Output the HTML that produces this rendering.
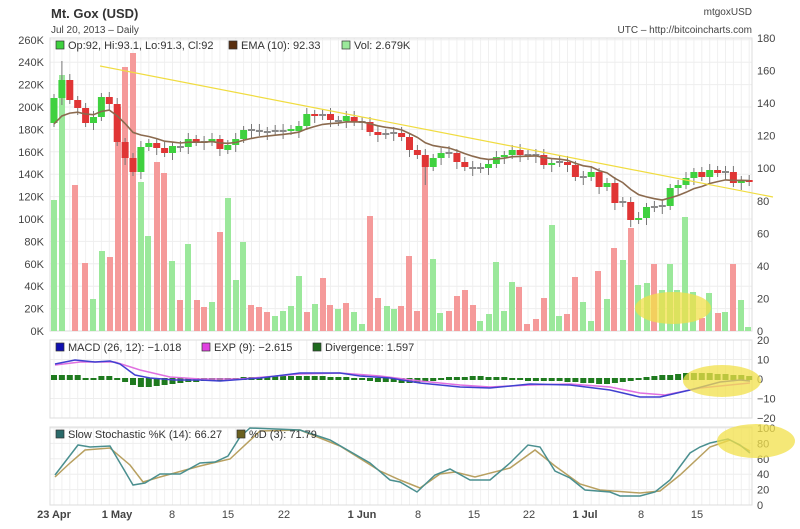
<!DOCTYPE html>
<html><head><meta charset="utf-8">
<style>
body{margin:0;background:#fff;}
svg{display:block;font-family:"Liberation Sans",sans-serif;}
</style></head>
<body>
<svg id="s" width="800" height="529" viewBox="0 0 800 529" xmlns="http://www.w3.org/2000/svg">
<rect width="800" height="529" fill="#fff"/>
<text x="51" y="18" font-size="13" font-weight="bold" fill="#333">Mt. Gox (USD)</text>
<text x="51" y="33" font-size="10" fill="#444">Jul 20, 2013 – Daily</text>
<text x="752" y="15" font-size="10" fill="#444" text-anchor="end">mtgoxUSD</text>
<text x="752" y="33" font-size="10" fill="#444" text-anchor="end">UTC – http://bitcoincharts.com</text>
<g id="g"></g>
</svg>
<script>
(function(){
var g=document.getElementById('g'),h='';
function X(i){return 54+7.9*i;}
var P=[[38,331],[340,418],[427,505]];
P.forEach(function(p){
 for(var i=0;i<89;i++){h+='<line x1="'+X(i)+'" y1="'+p[0]+'" x2="'+X(i)+'" y2="'+p[1]+'" stroke="#f0f0f0" stroke-width="1"/>';}
});
for(var k=0;k<=13;k++){var y=331-k*22.4;h+='<line x1="50" y1="'+y+'" x2="752" y2="'+y+'" stroke="#eee"/>';
 h+='<text x="44" y="'+(y+4)+'" font-size="11" fill="#444" text-anchor="end">'+(k*20)+'K</text>';}
for(var k=0;k<=9;k++){var y=331-k*32.56;h+='<text x="757" y="'+(y+4)+'" font-size="11" fill="#444">'+(k*20)+'</text>';}
for(var k=-2;k<=2;k++){var y=379-k*19.5;h+='<line x1="50" y1="'+y+'" x2="752" y2="'+y+'" stroke="#eee"/>';
 h+='<text x="757" y="'+(y+4)+'" font-size="11" fill="#444">'+(k<0?'−':'')+Math.abs(k*10)+'</text>';}
for(var k=0;k<=5;k++){var y=505-k*15.4;h+='<line x1="50" y1="'+y+'" x2="752" y2="'+y+'" stroke="#eee"/>';
 h+='<text x="757" y="'+(y+4)+'" font-size="11" fill="#444">'+(k*20)+'</text>';}
P.forEach(function(p){h+='<rect x="50" y="'+p[0]+'" width="702" height="'+(p[1]-p[0])+'" fill="none" stroke="#ddd"/>';});
var V=[[54,200,'g'],[62,75,'g'],[75,185,'r'],[85,263,'r'],[93,299,'g'],[102,251,'g'],[110,257,'r'],[118,107,'r'],[125,67,'r'],[133,53,'r'],[141,182,'g'],[148,236,'g'],[157,162,'r'],[164,173,'r'],[172,261,'g'],[180,300,'r'],[188,244,'g'],[197,300,'r'],[204,307,'r'],[212,302,'g'],[220,232,'r'],[228,198,'g'],[236,280,'g'],[243,242,'g'],[251,305,'r'],[259,307,'r'],[267,312,'r'],[275,316,'g'],[283,311,'g'],[291,306,'g'],[299,276,'g'],[307,312,'r'],[315,304,'g'],[323,278,'r'],[330,305,'r'],[338,309,'g'],[346,303,'r'],[354,312,'g'],[362,324,'g'],[370,216,'r'],[378,298,'r'],[387,306,'g'],[394,309,'g'],
[401,306,'r'],[409,256,'r'],[417,311,'r'],[425,165,'r'],[433,259,'g'],[440,313,'g'],[449,311,'r'],[457,296,'r'],[465,290,'r'],[473,305,'r'],[480,321,'g'],[489,314,'g'],[496,262,'g'],[504,311,'g'],[512,282,'g'],[519,287,'r'],[527,324,'r'],[536,319,'r'],[544,298,'r'],[552,225,'g'],[559,316,'g'],[567,314,'r'],[575,277,'r'],[583,302,'g'],[591,321,'g'],[598,271,'r'],[607,299,'g'],[614,248,'r'],[623,260,'g'],[631,228,'r'],[638,285,'g'],[647,283,'g'],[654,264,'r'],[662,290,'g'],[670,264,'g'],[677,290,'g'],[685,217,'g'],[693,292,'g'],[702,318,'r'],[709,293,'g'],[718,313,'r'],[725,312,'g'],[733,264,'r'],[741,300,'g'],[748,327,'g']];
V.forEach(function(v){h+='<rect x="'+(v[0]-3)+'" y="'+v[1]+'" width="6" height="'+(331-v[1])+'" fill="'+(v[2]=='g'?'#9be89b':'#f59a9a')+'"/>';});
var C=[98,80,100,108,123,117,97,104,142,158,172,147,143,148,153,146,147,139,142,142,139,149,145,139,130,130,131,132,131,131,129,126,114,116,115,120,121,116,122,122,132,135,134,133,137,150,155,167,158,153,153,162,167,168,168,164,157,155,150,155,155,155,165,163,162,165,177,177,172,187,183,203,202,220,218,207,207,206,188,185,178,172,177,170,173,172,183,180,182];
var O={0:123,22:150,31:131,35:114,38:117};
var ema=[],e=124;
for(var i=0;i<89;i++){
 var c0=C[i],o0=(O[i]!==undefined)?O[i]:(i?C[i-1]:123);
 var cc=c0,oo=o0;
 var col=(c0<o0)?'#3fd13f':'#e03535';
 if(Math.abs(oo-cc)<2){col='#8a8a8a';oo=cc+1;cc=cc-1;}
 var bt=Math.min(oo,cc),bb=Math.max(oo,cc),xx=X(i);
 var hi=bt-4-(i%3),lo=bb+4+(i%2)*3; if(i==47)lo=185; if(i==1)hi=61;
 h+='<line x1="'+xx+'" y1="'+hi+'" x2="'+xx+'" y2="'+lo+'" stroke="#777" stroke-width="1"/>';
 h+='<rect x="'+(xx-3.5)+'" y="'+bt+'" width="7" height="'+Math.max(1,bb-bt)+'" fill="'+col+'"/>';
 e=(i==0)?124:e+(C[i]-e)*2/11; ema.push(xx.toFixed(1)+','+e.toFixed(1));}
h+='<polyline points="'+ema.join(' ')+'" fill="none" stroke="#8b6a4e" stroke-width="1.6"/>';
h+='<line x1="100" y1="66" x2="773" y2="197" stroke="#f0dc40" stroke-width="1.2"/>';
var D=[3,3,3,3,0,0,2,2,0,-2,-5,-7,-7,-6,-5,-4,-3,-2,-2,-1,-1,-1,0,0,1,1,1,1,2,2,2,2,2,2,2,1,1,1,0,0,-1,-2,-2,-2,-3,-3,-3,-2,-1,0,1,1,1,2,2,1,1,1,0,0,-1,-1,-1,-1,-1,-2,-2,-3,-3,-4,-4,-3,-2,-1,0,1,2,3,3,4,5,5,5,5,4,4,3,3,2];
for(var i=0;i<89;i++){var d=D[i];h+='<rect x="'+(X(i)-3)+'" y="'+(d>0?379-d-1:378)+'" width="6" height="'+(Math.abs(d)+2)+'" fill="#1e7a1e"/>';}
h+='<polyline points="55,365 80,362 115,362 140,370 170,377 200,379 240,379 300,374 340,373 380,376 420,381 460,385 490,387 530,385 570,384 610,387 640,393 665,395 700,388 740,384 750,383" fill="none" stroke="#e070e0" stroke-width="1.5"/>';
h+='<polyline points="55,364 75,360 95,362 110,361 120,364 135,375 150,378 175,380 200,380 220,381 260,378 300,373 340,373 360,376 390,378 420,383 460,387 490,388 530,384 570,385 610,390 640,397 660,397 690,390 720,382 740,380 750,381" fill="none" stroke="#4040d0" stroke-width="1.5"/>';
h+='<polyline points="55,477 70,463 85,450 110,448 130,465 143,482 160,477 200,466 230,459 260,431 300,430 340,446 380,471 400,480 420,488 440,474 455,472 475,477 510,468 535,450 555,466 580,484 600,490 640,493 660,491 680,475 710,447 730,440 750,451" fill="none" stroke="#b8a060" stroke-width="1.5"/>';
h+='<polyline points="55,475 78,445 90,447 110,446 133,485 145,483 160,474 180,474 200,463 215,462 228,456 240,437 250,428 300,430 330,440 370,463 390,480 400,482 417,492 435,475 450,469 470,480 490,480 510,463 528,445 540,447 555,471 570,478 585,490 610,492 620,496 640,496 655,492 670,480 690,453 700,447 710,443 728,439 740,445 750,453" fill="none" stroke="#4a8f8f" stroke-width="1.5"/>';
h+='<ellipse cx="673" cy="308" rx="38" ry="16" fill="#f2e04a" opacity="0.75"/>';
h+='<ellipse cx="722" cy="381" rx="39" ry="16" fill="#f2e04a" opacity="0.75"/>';
h+='<ellipse cx="756" cy="441" rx="39" ry="17" fill="#f2e04a" opacity="0.75"/>';
function lg(x,y,c,t){h+='<rect x="'+x+'" y="'+(y-8)+'" width="8" height="8" fill="'+c+'" stroke="#333" stroke-width="0.7"/><text x="'+(x+12)+'" y="'+y+'" font-size="11" fill="#333">'+t+'</text>';}
lg(56,49,'#3fd13f','Op:92, Hi:93.1, Lo:91.3, Cl:92');
lg(229,49,'#5a3010','EMA (10): 92.33');
lg(342,49,'#9be89b','Vol: 2.679K');
lg(56,351,'#1010b0','MACD (26, 12): −1.018');
lg(202,351,'#e040e0','EXP (9): −2.615');
lg(313,351,'#1e6a1e','Divergence: 1.597');
lg(56,438,'#2a6a6a','Slow Stochastic %K (14): 66.27');
lg(237,438,'#6a6020','%D (3): 71.79');
[['23 Apr',54,1],['1 May',117,1],['8',172,0],['15',228,0],['22',284,0],['1 Jun',362,1],['8',418,0],['15',474,0],['22',529,0],['1 Jul',585,1],['8',641,0],['15',697,0]].forEach(function(l){
 h+='<text x="'+l[1]+'" y="518" font-size="11" text-anchor="middle" fill="#444"'+(l[2]?' font-weight="bold"':'')+'>'+l[0]+'</text>';});
g.innerHTML=h;
})();
</script>
</body></html>
